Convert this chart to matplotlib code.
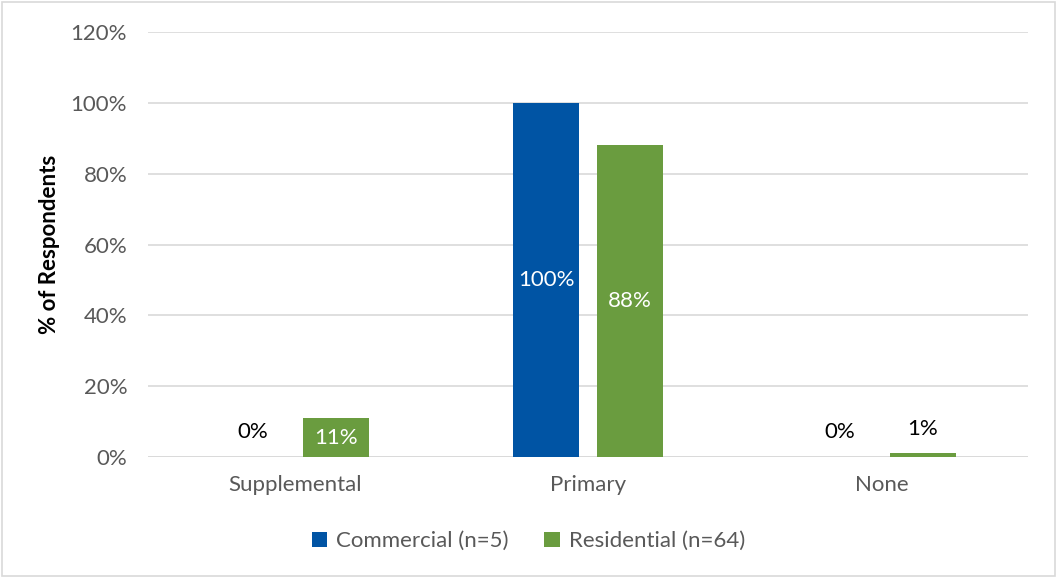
import matplotlib
matplotlib.use("Agg")
import matplotlib.pyplot as plt
import numpy as np
from matplotlib.patches import Rectangle

categories = ["Supplemental", "Primary", "None"]
commercial = [0, 100, 0]
residential = [11, 88, 1]
series_names = ["Commercial (n=5)", "Residential (n=64)"]
y_ticks = [0, 20, 40, 60, 80, 100, 120]

BLUE = "#0054A4"
GREEN = "#6A9C3F"
GRID = "#D9D9D9"
TXT = "#595959"
FS = 16

plt.rcParams["font.family"] = ["Lato", "DejaVu Sans"]

fig = plt.figure(figsize=(10.57, 5.77), dpi=100)
ax = fig.add_axes([0.140, 0.208, 0.8326, 0.7365])

x = np.arange(len(categories))
w = 0.225
off = 0.142
b1 = ax.bar(x - off, commercial, w, color=BLUE, label=series_names[0], zorder=3)
b2 = ax.bar(x + off, residential, w, color=GREEN, label=series_names[1], zorder=3)

for bars, vals in ((b1, commercial), (b2, residential)):
    for rect, v in zip(bars, vals):
        cx = rect.get_x() + rect.get_width() / 2
        if v >= 10:
            ax.text(cx, v / 2, f"{v}%", ha="center", va="center",
                    color="white", fontsize=FS, zorder=4)
        else:
            ax.text(cx, v + 7, f"{v}%", ha="center", va="center",
                    color="black", fontsize=FS, zorder=4)

ax.set_xlim(-0.5, 2.5)
ax.set_ylim(0, 120)
ax.set_yticks(y_ticks)
ax.set_yticklabels([f"{t}%" for t in y_ticks])
ax.set_xticks(x)
ax.set_xticklabels(categories)
ax.tick_params(axis="both", length=0, labelsize=FS, colors=TXT)
ax.tick_params(axis="y", pad=15)
ax.tick_params(axis="x", pad=13)
ax.grid(axis="y", color=GRID, linewidth=1.2, zorder=0)
for s in ax.spines.values():
    s.set_visible(False)
ax.axhline(0, color=GRID, linewidth=1.2, zorder=2)

ax.set_ylabel("% of Respondents", fontsize=FS, fontweight="bold",
              color="black", labelpad=8)

leg = fig.legend(handles=[b1, b2], labels=series_names, loc="center",
                 bbox_to_anchor=(0.5, 0.062), ncol=2, frameon=False,
                 fontsize=FS, handlelength=0.7, handleheight=0.7,
                 handletextpad=0.4, columnspacing=1.6)
for t in leg.get_texts():
    t.set_color(TXT)

fig.patches.append(Rectangle((0.002, 0.002), 0.996, 0.994, transform=fig.transFigure,
                             fill=False, edgecolor=GRID, linewidth=1.2))

fig.savefig("out.png", dpi=100)
